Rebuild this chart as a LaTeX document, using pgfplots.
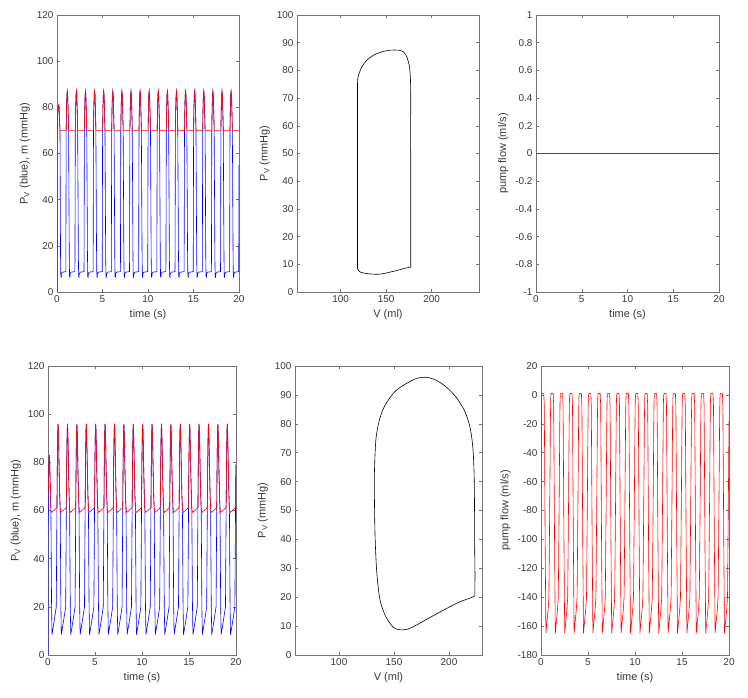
\documentclass[border=0pt]{standalone}
\usepackage{fontspec}
\setmainfont{Liberation Sans}
\usepackage{pgfplots}
\pgfplotsset{compat=1.18}
\definecolor{axgray}{gray}{0.45}
\definecolor{txtgray}{gray}{0.22}
\pgfplotsset{
  mat/.style={
    scale only axis,
    anchor=south west,
    axis line style={axgray, line width=0.6bp},
    tick style={axgray, line width=0.5bp},
    major tick length=3bp,
    tick align=inside,
    tick label style={font=\fontsize{10}{12}\selectfont, text=txtgray},
    label style={font=\fontsize{11}{13}\selectfont, text=txtgray},
    /pgf/number format/assume math mode=true,
    every axis plot/.append style={line width=0.6bp},
  }
}
\begin{document}
\begin{tikzpicture}
\path[use as bounding box] (0,0) rectangle (748bp,698bp);
% ---------------- top left
\begin{axis}[mat, at={(57bp,406bp)}, width=182bp, height=277bp,
  xmin=0, xmax=20, ymin=0, ymax=120, xtick={0,5,...,20}, ytick={0,20,...,120},
  xlabel={time (s)}, ylabel={P\textsubscript{V} (blue), m (mmHg)}]
\addplot[blue] coordinates {
(0,0) (0.02,70) (0.08,77) (0.14,80.5) (0.2,81) (0.25,78) (0.3,72) (0.33,70) (0.39,15) (0.42,6.6) (0.46,6.4) (0.49,8) (0.59,8.6) (0.97,8.8)
(1.01,70) (1.05,80) (1.09,85.5) (1.13,87) (1.17,85.5) (1.22,79) (1.27,70.5) (1.35,15) (1.38,6.6) (1.42,6.4) (1.45,8) (1.55,8.6) (1.97,8.8)
(2.01,70) (2.05,80) (2.09,85.5) (2.13,87) (2.17,85.5) (2.22,79) (2.27,70.5) (2.35,15) (2.38,6.6) (2.42,6.4) (2.45,8) (2.55,8.6) (2.97,8.8)
(3.01,70) (3.05,80) (3.09,85.5) (3.13,87) (3.17,85.5) (3.22,79) (3.27,70.5) (3.35,15) (3.38,6.6) (3.42,6.4) (3.45,8) (3.55,8.6) (3.97,8.8)
(4.01,70) (4.05,80) (4.09,85.5) (4.13,87) (4.17,85.5) (4.22,79) (4.27,70.5) (4.35,15) (4.38,6.6) (4.42,6.4) (4.45,8) (4.55,8.6) (4.97,8.8)
(5.01,70) (5.05,80) (5.09,85.5) (5.13,87) (5.17,85.5) (5.22,79) (5.27,70.5) (5.35,15) (5.38,6.6) (5.42,6.4) (5.45,8) (5.55,8.6) (5.97,8.8)
(6.01,70) (6.05,80) (6.09,85.5) (6.13,87) (6.17,85.5) (6.22,79) (6.27,70.5) (6.35,15) (6.38,6.6) (6.42,6.4) (6.45,8) (6.55,8.6) (6.97,8.8)
(7.01,70) (7.05,80) (7.09,85.5) (7.13,87) (7.17,85.5) (7.22,79) (7.27,70.5) (7.35,15) (7.38,6.6) (7.42,6.4) (7.45,8) (7.55,8.6) (7.97,8.8)
(8.01,70) (8.05,80) (8.09,85.5) (8.13,87) (8.17,85.5) (8.22,79) (8.27,70.5) (8.35,15) (8.38,6.6) (8.42,6.4) (8.45,8) (8.55,8.6) (8.97,8.8)
(9.01,70) (9.05,80) (9.09,85.5) (9.13,87) (9.17,85.5) (9.22,79) (9.27,70.5) (9.35,15) (9.38,6.6) (9.42,6.4) (9.45,8) (9.55,8.6) (9.97,8.8)
(10.01,70) (10.05,80) (10.09,85.5) (10.13,87) (10.17,85.5) (10.22,79) (10.27,70.5) (10.35,15) (10.38,6.6) (10.42,6.4) (10.45,8) (10.55,8.6) (10.97,8.8)
(11.01,70) (11.05,80) (11.09,85.5) (11.13,87) (11.17,85.5) (11.22,79) (11.27,70.5) (11.35,15) (11.38,6.6) (11.42,6.4) (11.45,8) (11.55,8.6) (11.97,8.8)
(12.01,70) (12.05,80) (12.09,85.5) (12.13,87) (12.17,85.5) (12.22,79) (12.27,70.5) (12.35,15) (12.38,6.6) (12.42,6.4) (12.45,8) (12.55,8.6) (12.97,8.8)
(13.01,70) (13.05,80) (13.09,85.5) (13.13,87) (13.17,85.5) (13.22,79) (13.27,70.5) (13.35,15) (13.38,6.6) (13.42,6.4) (13.45,8) (13.55,8.6) (13.97,8.8)
(14.01,70) (14.05,80) (14.09,85.5) (14.13,87) (14.17,85.5) (14.22,79) (14.27,70.5) (14.35,15) (14.38,6.6) (14.42,6.4) (14.45,8) (14.55,8.6) (14.97,8.8)
(15.01,70) (15.05,80) (15.09,85.5) (15.13,87) (15.17,85.5) (15.22,79) (15.27,70.5) (15.35,15) (15.38,6.6) (15.42,6.4) (15.45,8) (15.55,8.6) (15.97,8.8)
(16.01,70) (16.05,80) (16.09,85.5) (16.13,87) (16.17,85.5) (16.22,79) (16.27,70.5) (16.35,15) (16.38,6.6) (16.42,6.4) (16.45,8) (16.55,8.6) (16.97,8.8)
(17.01,70) (17.05,80) (17.09,85.5) (17.13,87) (17.17,85.5) (17.22,79) (17.27,70.5) (17.35,15) (17.38,6.6) (17.42,6.4) (17.45,8) (17.55,8.6) (17.97,8.8)
(18.01,70) (18.05,80) (18.09,85.5) (18.13,87) (18.17,85.5) (18.22,79) (18.27,70.5) (18.35,15) (18.38,6.6) (18.42,6.4) (18.45,8) (18.55,8.6) (18.97,8.8)
(19.01,70) (19.05,80) (19.09,85.5) (19.13,87) (19.17,85.5) (19.22,79) (19.27,70.5) (19.35,15) (19.38,6.6) (19.42,6.4) (19.45,8) (19.55,8.6) (19.97,8.8)
(20,55)
};
\addplot[red] coordinates {
(0,70) (0.02,70) (0.08,77) (0.14,80.5) (0.2,81) (0.25,78) (0.3,72) (0.33,70)
(1.01,70) (1.05,80) (1.09,85.5) (1.13,87) (1.17,85.5) (1.22,79) (1.27,70.5) (1.28,70)
(2.01,70) (2.05,80) (2.09,85.5) (2.13,87) (2.17,85.5) (2.22,79) (2.27,70.5) (2.28,70)
(3.01,70) (3.05,80) (3.09,85.5) (3.13,87) (3.17,85.5) (3.22,79) (3.27,70.5) (3.28,70)
(4.01,70) (4.05,80) (4.09,85.5) (4.13,87) (4.17,85.5) (4.22,79) (4.27,70.5) (4.28,70)
(5.01,70) (5.05,80) (5.09,85.5) (5.13,87) (5.17,85.5) (5.22,79) (5.27,70.5) (5.28,70)
(6.01,70) (6.05,80) (6.09,85.5) (6.13,87) (6.17,85.5) (6.22,79) (6.27,70.5) (6.28,70)
(7.01,70) (7.05,80) (7.09,85.5) (7.13,87) (7.17,85.5) (7.22,79) (7.27,70.5) (7.28,70)
(8.01,70) (8.05,80) (8.09,85.5) (8.13,87) (8.17,85.5) (8.22,79) (8.27,70.5) (8.28,70)
(9.01,70) (9.05,80) (9.09,85.5) (9.13,87) (9.17,85.5) (9.22,79) (9.27,70.5) (9.28,70)
(10.01,70) (10.05,80) (10.09,85.5) (10.13,87) (10.17,85.5) (10.22,79) (10.27,70.5) (10.28,70)
(11.01,70) (11.05,80) (11.09,85.5) (11.13,87) (11.17,85.5) (11.22,79) (11.27,70.5) (11.28,70)
(12.01,70) (12.05,80) (12.09,85.5) (12.13,87) (12.17,85.5) (12.22,79) (12.27,70.5) (12.28,70)
(13.01,70) (13.05,80) (13.09,85.5) (13.13,87) (13.17,85.5) (13.22,79) (13.27,70.5) (13.28,70)
(14.01,70) (14.05,80) (14.09,85.5) (14.13,87) (14.17,85.5) (14.22,79) (14.27,70.5) (14.28,70)
(15.01,70) (15.05,80) (15.09,85.5) (15.13,87) (15.17,85.5) (15.22,79) (15.27,70.5) (15.28,70)
(16.01,70) (16.05,80) (16.09,85.5) (16.13,87) (16.17,85.5) (16.22,79) (16.27,70.5) (16.28,70)
(17.01,70) (17.05,80) (17.09,85.5) (17.13,87) (17.17,85.5) (17.22,79) (17.27,70.5) (17.28,70)
(18.01,70) (18.05,80) (18.09,85.5) (18.13,87) (18.17,85.5) (18.22,79) (18.27,70.5) (18.28,70)
(19.01,70) (19.05,80) (19.09,85.5) (19.13,87) (19.17,85.5) (19.22,79) (19.27,70.5) (19.28,70)
(20,70)
};
\end{axis}
% ---------------- top middle
\begin{axis}[mat, at={(297bp,406bp)}, width=182bp, height=277bp,
  xmin=52, xmax=252, ymin=0, ymax=100, xtick={100,150,200}, ytick={0,10,...,100},
  xlabel={V (ml)}, ylabel={P\textsubscript{V} (mmHg)}]
\addplot[black, smooth, tension=0.4] coordinates {
(177,9) (177,20) (177,40) (176.9,60) (177,69.3) (176.7,76.5) (175.6,81.3) (172.7,84.9) (169,86.7) (163.5,87.3) (154.4,87.3) (145.2,86.7) (136.1,85.5) (128.8,83.7) (123.3,81.3) (119.6,78.3) (118.5,75.3)
(118.5,60) (118.5,40) (118.5,20) (118.5,10) (118.7,8.2) (121.5,7.2) (126,6.8) (132.5,6.5) (141.6,6.4) (148,6.7) (154.4,7.2) (160,7.6) (165.4,8.1) (171,8.6) (177,9)
};
\end{axis}
% ---------------- top right
\begin{axis}[mat, at={(536bp,406bp)}, width=183bp, height=277bp,
  xmin=0, xmax=20, ymin=-1, ymax=1, xtick={0,5,...,20},
  ytick={-1,-0.8,-0.6,-0.4,-0.2,0,0.2,0.4,0.6,0.8,1},
  xlabel={time (s)}, ylabel={pump flow (ml/s)}]
\addplot[red, line width=0.8bp] coordinates {(0,0) (5,0) (10,0) (15,0) (20,0)};
\end{axis}
% ---------------- bottom left
\begin{axis}[mat, at={(48bp,43bp)}, width=188bp, height=289bp,
  xmin=0, xmax=20, ymin=0, ymax=120, xtick={0,5,...,20}, ytick={0,20,...,120},
  xlabel={time (s)}, ylabel={P\textsubscript{V} (blue), m (mmHg)}]
\addplot[blue] coordinates {
(0,0) (0.02,55) (0.05,70) (0.09,79) (0.14,83) (0.18,80) (0.23,72) (0.28,63) (0.31,60) (0.38,20) (0.43,8.5) (0.65,14) (0.88,20) (0.95,60) (0.98,75)
(1.01,86) (1.04,93) (1.07,96) (1.10,94) (1.14,87) (1.19,76) (1.25,66) (1.30,60.5) (1.37,20) (1.42,8.5) (1.65,14) (1.88,20) (1.95,60) (1.98,75)
(2.01,86) (2.04,93) (2.07,96) (2.10,94) (2.14,87) (2.19,76) (2.25,66) (2.30,60.5) (2.37,20) (2.42,8.5) (2.65,14) (2.88,20) (2.95,60) (2.98,75)
(3.01,86) (3.04,93) (3.07,96) (3.10,94) (3.14,87) (3.19,76) (3.25,66) (3.30,60.5) (3.37,20) (3.42,8.5) (3.65,14) (3.88,20) (3.95,60) (3.98,75)
(4.01,86) (4.04,93) (4.07,96) (4.10,94) (4.14,87) (4.19,76) (4.25,66) (4.30,60.5) (4.37,20) (4.42,8.5) (4.65,14) (4.88,20) (4.95,60) (4.98,75)
(5.01,86) (5.04,93) (5.07,96) (5.10,94) (5.14,87) (5.19,76) (5.25,66) (5.30,60.5) (5.37,20) (5.42,8.5) (5.65,14) (5.88,20) (5.95,60) (5.98,75)
(6.01,86) (6.04,93) (6.07,96) (6.10,94) (6.14,87) (6.19,76) (6.25,66) (6.30,60.5) (6.37,20) (6.42,8.5) (6.65,14) (6.88,20) (6.95,60) (6.98,75)
(7.01,86) (7.04,93) (7.07,96) (7.10,94) (7.14,87) (7.19,76) (7.25,66) (7.30,60.5) (7.37,20) (7.42,8.5) (7.65,14) (7.88,20) (7.95,60) (7.98,75)
(8.01,86) (8.04,93) (8.07,96) (8.10,94) (8.14,87) (8.19,76) (8.25,66) (8.30,60.5) (8.37,20) (8.42,8.5) (8.65,14) (8.88,20) (8.95,60) (8.98,75)
(9.01,86) (9.04,93) (9.07,96) (9.10,94) (9.14,87) (9.19,76) (9.25,66) (9.30,60.5) (9.37,20) (9.42,8.5) (9.65,14) (9.88,20) (9.95,60) (9.98,75)
(10.01,86) (10.04,93) (10.07,96) (10.10,94) (10.14,87) (10.19,76) (10.25,66) (10.30,60.5) (10.37,20) (10.42,8.5) (10.65,14) (10.88,20) (10.95,60) (10.98,75)
(11.01,86) (11.04,93) (11.07,96) (11.10,94) (11.14,87) (11.19,76) (11.25,66) (11.30,60.5) (11.37,20) (11.42,8.5) (11.65,14) (11.88,20) (11.95,60) (11.98,75)
(12.01,86) (12.04,93) (12.07,96) (12.10,94) (12.14,87) (12.19,76) (12.25,66) (12.30,60.5) (12.37,20) (12.42,8.5) (12.65,14) (12.88,20) (12.95,60) (12.98,75)
(13.01,86) (13.04,93) (13.07,96) (13.10,94) (13.14,87) (13.19,76) (13.25,66) (13.30,60.5) (13.37,20) (13.42,8.5) (13.65,14) (13.88,20) (13.95,60) (13.98,75)
(14.01,86) (14.04,93) (14.07,96) (14.10,94) (14.14,87) (14.19,76) (14.25,66) (14.30,60.5) (14.37,20) (14.42,8.5) (14.65,14) (14.88,20) (14.95,60) (14.98,75)
(15.01,86) (15.04,93) (15.07,96) (15.10,94) (15.14,87) (15.19,76) (15.25,66) (15.30,60.5) (15.37,20) (15.42,8.5) (15.65,14) (15.88,20) (15.95,60) (15.98,75)
(16.01,86) (16.04,93) (16.07,96) (16.10,94) (16.14,87) (16.19,76) (16.25,66) (16.30,60.5) (16.37,20) (16.42,8.5) (16.65,14) (16.88,20) (16.95,60) (16.98,75)
(17.01,86) (17.04,93) (17.07,96) (17.10,94) (17.14,87) (17.19,76) (17.25,66) (17.30,60.5) (17.37,20) (17.42,8.5) (17.65,14) (17.88,20) (17.95,60) (17.98,75)
(18.01,86) (18.04,93) (18.07,96) (18.10,94) (18.14,87) (18.19,76) (18.25,66) (18.30,60.5) (18.37,20) (18.42,8.5) (18.65,14) (18.88,20) (18.95,60) (18.98,75)
(19.01,86) (19.04,93) (19.07,96) (19.10,94) (19.14,87) (19.19,76) (19.25,66) (19.30,60.5) (19.37,20) (19.42,8.5) (19.65,14) (19.88,20) (19.95,60) (19.98,75)
(20,79)
};
\addplot[red] coordinates {
(0,66) (0.05,70) (0.09,79) (0.14,83) (0.18,80) (0.23,72) (0.28,63) (0.31,60) (0.39,59.2) (0.9,61) (0.955,62) (0.98,75)
(1.01,86) (1.04,93) (1.07,96) (1.10,94) (1.14,87) (1.19,76) (1.25,66) (1.30,60.5) (1.38,59.2) (1.9,61) (1.955,62) (1.98,75)
(2.01,86) (2.04,93) (2.07,96) (2.10,94) (2.14,87) (2.19,76) (2.25,66) (2.30,60.5) (2.38,59.2) (2.9,61) (2.955,62) (2.98,75)
(3.01,86) (3.04,93) (3.07,96) (3.10,94) (3.14,87) (3.19,76) (3.25,66) (3.30,60.5) (3.38,59.2) (3.9,61) (3.955,62) (3.98,75)
(4.01,86) (4.04,93) (4.07,96) (4.10,94) (4.14,87) (4.19,76) (4.25,66) (4.30,60.5) (4.38,59.2) (4.9,61) (4.955,62) (4.98,75)
(5.01,86) (5.04,93) (5.07,96) (5.10,94) (5.14,87) (5.19,76) (5.25,66) (5.30,60.5) (5.38,59.2) (5.9,61) (5.955,62) (5.98,75)
(6.01,86) (6.04,93) (6.07,96) (6.10,94) (6.14,87) (6.19,76) (6.25,66) (6.30,60.5) (6.38,59.2) (6.9,61) (6.955,62) (6.98,75)
(7.01,86) (7.04,93) (7.07,96) (7.10,94) (7.14,87) (7.19,76) (7.25,66) (7.30,60.5) (7.38,59.2) (7.9,61) (7.955,62) (7.98,75)
(8.01,86) (8.04,93) (8.07,96) (8.10,94) (8.14,87) (8.19,76) (8.25,66) (8.30,60.5) (8.38,59.2) (8.9,61) (8.955,62) (8.98,75)
(9.01,86) (9.04,93) (9.07,96) (9.10,94) (9.14,87) (9.19,76) (9.25,66) (9.30,60.5) (9.38,59.2) (9.9,61) (9.955,62) (9.98,75)
(10.01,86) (10.04,93) (10.07,96) (10.10,94) (10.14,87) (10.19,76) (10.25,66) (10.30,60.5) (10.38,59.2) (10.9,61) (10.955,62) (10.98,75)
(11.01,86) (11.04,93) (11.07,96) (11.10,94) (11.14,87) (11.19,76) (11.25,66) (11.30,60.5) (11.38,59.2) (11.9,61) (11.955,62) (11.98,75)
(12.01,86) (12.04,93) (12.07,96) (12.10,94) (12.14,87) (12.19,76) (12.25,66) (12.30,60.5) (12.38,59.2) (12.9,61) (12.955,62) (12.98,75)
(13.01,86) (13.04,93) (13.07,96) (13.10,94) (13.14,87) (13.19,76) (13.25,66) (13.30,60.5) (13.38,59.2) (13.9,61) (13.955,62) (13.98,75)
(14.01,86) (14.04,93) (14.07,96) (14.10,94) (14.14,87) (14.19,76) (14.25,66) (14.30,60.5) (14.38,59.2) (14.9,61) (14.955,62) (14.98,75)
(15.01,86) (15.04,93) (15.07,96) (15.10,94) (15.14,87) (15.19,76) (15.25,66) (15.30,60.5) (15.38,59.2) (15.9,61) (15.955,62) (15.98,75)
(16.01,86) (16.04,93) (16.07,96) (16.10,94) (16.14,87) (16.19,76) (16.25,66) (16.30,60.5) (16.38,59.2) (16.9,61) (16.955,62) (16.98,75)
(17.01,86) (17.04,93) (17.07,96) (17.10,94) (17.14,87) (17.19,76) (17.25,66) (17.30,60.5) (17.38,59.2) (17.9,61) (17.955,62) (17.98,75)
(18.01,86) (18.04,93) (18.07,96) (18.10,94) (18.14,87) (18.19,76) (18.25,66) (18.30,60.5) (18.38,59.2) (18.9,61) (18.955,62) (18.98,75)
(19.01,86) (19.04,93) (19.07,96) (19.10,94) (19.14,87) (19.19,76) (19.25,66) (19.30,60.5) (19.38,59.2) (19.9,61) (19.955,62) (19.98,75)
(20,79)
};
\end{axis}
% ---------------- bottom middle
\begin{axis}[mat, at={(295bp,43bp)}, width=187bp, height=289bp,
  xmin=60, xmax=230, ymin=0, ymax=100, xtick={100,150,200}, ytick={0,10,...,100},
  xlabel={V (ml)}, ylabel={P\textsubscript{V} (mmHg)}]
\addplot[black, smooth, tension=0.5] coordinates {
(223.5,20.4) (223.6,28.3) (223.3,39.8) (223.2,51.3) (222.8,62.9) (221.6,72.1) (219,79) (214,84.6) (206.5,89.2) (197,92.9) (188,95.1) (179.6,96.1) (170.6,95.7) (161.5,94) (152.4,91.7) (145.5,88.6) (140,85) (136.2,80.5) (133.5,74.4) (132.2,62.9) (132.3,51.3) (132.9,39.8) (134.4,28.3) (137.3,19) (142.5,13.3) (149.4,9.6) (156,8.7) (163,9) (170.6,10.4) (184.2,13.3) (197.8,16.1) (209.8,18.4) (218.5,19.6) (223.5,20.4)
};
\end{axis}
% ---------------- bottom right
\begin{axis}[mat, at={(541bp,43bp)}, width=188bp, height=289bp,
  xmin=0, xmax=20, ymin=-180, ymax=20, xtick={0,5,...,20}, ytick={-180,-160,...,20},
  xlabel={time (s)}, ylabel={pump flow (ml/s)}]
\addplot[red] coordinates {
(0,-75) (0.03,-3) (0.07,0.8) (0.2,1.2) (0.3,0.8) (0.35,-8) (0.44,-100) (0.52,-165) (0.62,-158) (0.75,-149) (0.84,-140) (0.93,-75)
(1,-18) (1.03,-3) (1.07,0.8) (1.2,1.2) (1.3,0.8) (1.35,-8) (1.44,-100) (1.52,-165) (1.62,-158) (1.75,-149) (1.84,-140) (1.93,-75)
(2,-18) (2.03,-3) (2.07,0.8) (2.2,1.2) (2.3,0.8) (2.35,-8) (2.44,-100) (2.52,-165) (2.62,-158) (2.75,-149) (2.84,-140) (2.93,-75)
(3,-18) (3.03,-3) (3.07,0.8) (3.2,1.2) (3.3,0.8) (3.35,-8) (3.44,-100) (3.52,-165) (3.62,-158) (3.75,-149) (3.84,-140) (3.93,-75)
(4,-18) (4.03,-3) (4.07,0.8) (4.2,1.2) (4.3,0.8) (4.35,-8) (4.44,-100) (4.52,-165) (4.62,-158) (4.75,-149) (4.84,-140) (4.93,-75)
(5,-18) (5.03,-3) (5.07,0.8) (5.2,1.2) (5.3,0.8) (5.35,-8) (5.44,-100) (5.52,-165) (5.62,-158) (5.75,-149) (5.84,-140) (5.93,-75)
(6,-18) (6.03,-3) (6.07,0.8) (6.2,1.2) (6.3,0.8) (6.35,-8) (6.44,-100) (6.52,-165) (6.62,-158) (6.75,-149) (6.84,-140) (6.93,-75)
(7,-18) (7.03,-3) (7.07,0.8) (7.2,1.2) (7.3,0.8) (7.35,-8) (7.44,-100) (7.52,-165) (7.62,-158) (7.75,-149) (7.84,-140) (7.93,-75)
(8,-18) (8.03,-3) (8.07,0.8) (8.2,1.2) (8.3,0.8) (8.35,-8) (8.44,-100) (8.52,-165) (8.62,-158) (8.75,-149) (8.84,-140) (8.93,-75)
(9,-18) (9.03,-3) (9.07,0.8) (9.2,1.2) (9.3,0.8) (9.35,-8) (9.44,-100) (9.52,-165) (9.62,-158) (9.75,-149) (9.84,-140) (9.93,-75)
(10,-18) (10.03,-3) (10.07,0.8) (10.2,1.2) (10.3,0.8) (10.35,-8) (10.44,-100) (10.52,-165) (10.62,-158) (10.75,-149) (10.84,-140) (10.93,-75)
(11,-18) (11.03,-3) (11.07,0.8) (11.2,1.2) (11.3,0.8) (11.35,-8) (11.44,-100) (11.52,-165) (11.62,-158) (11.75,-149) (11.84,-140) (11.93,-75)
(12,-18) (12.03,-3) (12.07,0.8) (12.2,1.2) (12.3,0.8) (12.35,-8) (12.44,-100) (12.52,-165) (12.62,-158) (12.75,-149) (12.84,-140) (12.93,-75)
(13,-18) (13.03,-3) (13.07,0.8) (13.2,1.2) (13.3,0.8) (13.35,-8) (13.44,-100) (13.52,-165) (13.62,-158) (13.75,-149) (13.84,-140) (13.93,-75)
(14,-18) (14.03,-3) (14.07,0.8) (14.2,1.2) (14.3,0.8) (14.35,-8) (14.44,-100) (14.52,-165) (14.62,-158) (14.75,-149) (14.84,-140) (14.93,-75)
(15,-18) (15.03,-3) (15.07,0.8) (15.2,1.2) (15.3,0.8) (15.35,-8) (15.44,-100) (15.52,-165) (15.62,-158) (15.75,-149) (15.84,-140) (15.93,-75)
(16,-18) (16.03,-3) (16.07,0.8) (16.2,1.2) (16.3,0.8) (16.35,-8) (16.44,-100) (16.52,-165) (16.62,-158) (16.75,-149) (16.84,-140) (16.93,-75)
(17,-18) (17.03,-3) (17.07,0.8) (17.2,1.2) (17.3,0.8) (17.35,-8) (17.44,-100) (17.52,-165) (17.62,-158) (17.75,-149) (17.84,-140) (17.93,-75)
(18,-18) (18.03,-3) (18.07,0.8) (18.2,1.2) (18.3,0.8) (18.35,-8) (18.44,-100) (18.52,-165) (18.62,-158) (18.75,-149) (18.84,-140) (18.93,-75)
(19,-18) (19.03,-3) (19.07,0.8) (19.2,1.2) (19.3,0.8) (19.35,-8) (19.44,-100) (19.52,-165) (19.62,-158) (19.75,-149) (19.84,-140) (19.93,-75)
(20,-18)
};
\end{axis}
\end{tikzpicture}
\end{document}
